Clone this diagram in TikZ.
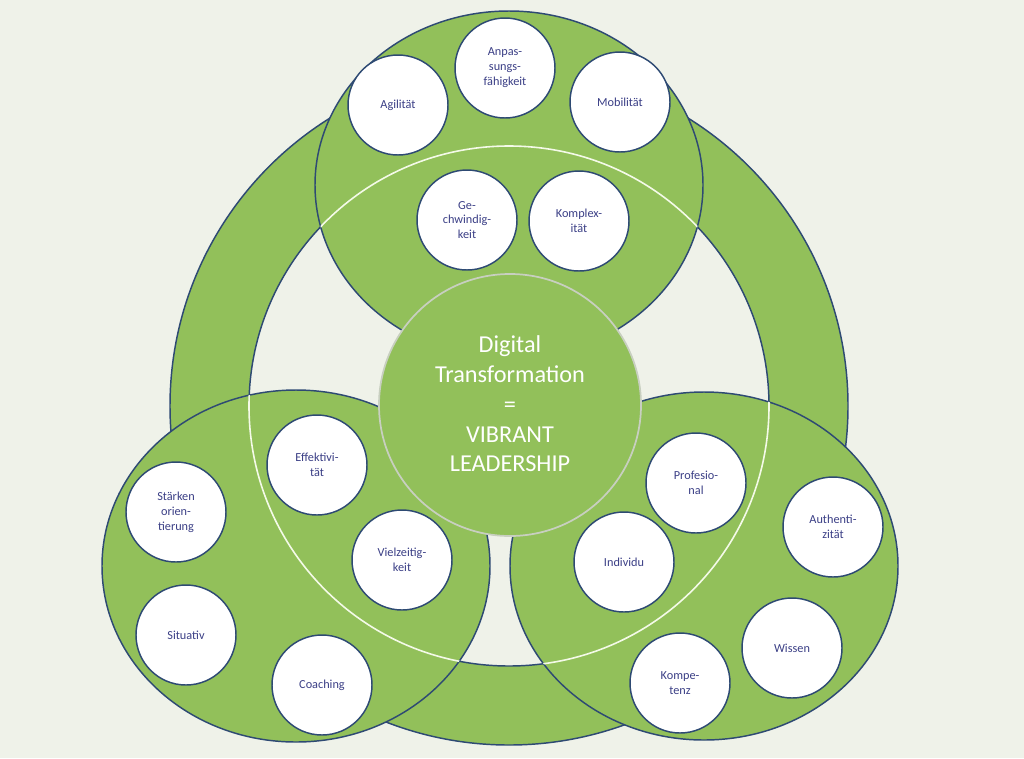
\documentclass[tikz,border=0pt]{standalone}
\usepackage{fontspec}
\setmainfont{Carlito}
\definecolor{bg}{HTML}{EFF2E9}
\definecolor{leaf}{HTML}{92C05A}
\definecolor{edge}{HTML}{2E4A73}
\definecolor{txt}{HTML}{3B3F86}
\definecolor{ringwhite}{HTML}{F4FAE8}
\definecolor{cedge}{HTML}{C8CFC0}
\tikzset{
  bubble/.style={circle, fill=white, draw=edge, line width=1.1pt, minimum size=75pt, inner sep=0pt,
    align=center, text=txt, font=\fontsize{9.2}{11.2}\selectfont},
  blob/.style={fill=leaf, draw=edge, line width=1.1pt},
}
\begin{document}
\begin{tikzpicture}[x=0.75pt,y=-0.75pt]
\fill[bg] (0,0) rectangle (1024,758);
\useasboundingbox (0,0) rectangle (1024,758);
% ring
\fill[leaf, even odd rule] (509,406) circle (254.25pt) (509,406) circle (195pt);
\draw[edge, line width=1.1pt] (509,406) circle (254.25pt);
\draw[edge, line width=1.1pt] (509,406) circle (195pt);
% three ellipses
\path[blob] (509,185) ellipse [x radius=145.5pt, y radius=130.5pt];
\path[blob] (296,566) ellipse [x radius=145.5pt, y radius=132pt];
\path[blob] (704,566) ellipse [x radius=145.5pt, y radius=130.5pt];
% white inner circle inside the ellipses
\begin{scope}
\clip (509,185) ellipse [x radius=145.5pt, y radius=130.5pt]
      (296,566) ellipse [x radius=145.5pt, y radius=132pt]
      (704,566) ellipse [x radius=145.5pt, y radius=130.5pt];
\draw[ringwhite, line width=1.2pt] (509,406) circle (195pt);
\end{scope}
% centre
\node[circle, fill=leaf, draw=cedge, line width=1.3pt, minimum size=196.5pt, inner sep=0pt] (core) at (510,405) {};
\node[align=center, text=white, font=\fontsize{18.2}{22.3}\selectfont] (title) at (510,404)
  {Digital\\Transformation\\=\\VIBRANT\\LEADERSHIP};
% bubbles top
\node[bubble] (agil) at (398,105) {Agilität};
\node[bubble] (anpas) at (505,68) {Anpas-\\sungs-\\fähigkeit};
\node[bubble] (mobil) at (620,102) {Mobilität};
\node[bubble] (gesch) at (467,220) {Ge-\\chwindig-\\keit};
\node[bubble] (kompl) at (579,221) {Komplex-\\ität};
% bubbles bottom left
\node[bubble] (effek) at (317,465) {Effektivi-\\tät};
\node[bubble] (staerk) at (176,512) {Stärken\\orien-\\tierung};
\node[bubble] (vielz) at (402,560) {Vielzeitig-\\keit};
\node[bubble] (situ) at (186,635) {Situativ};
\node[bubble] (coach) at (322,685) {Coaching};
% bubbles bottom right
\node[bubble] (profe) at (696,483) {Profesio-\\nal};
\node[bubble] (authe) at (833,527) {Authenti-\\zität};
\node[bubble] (indiv) at (624,562) {Individu};
\node[bubble] (wissen) at (792,648) {Wissen};
\node[bubble] (kompe) at (680,683) {Kompe-\\tenz};
\end{tikzpicture}
\end{document}
